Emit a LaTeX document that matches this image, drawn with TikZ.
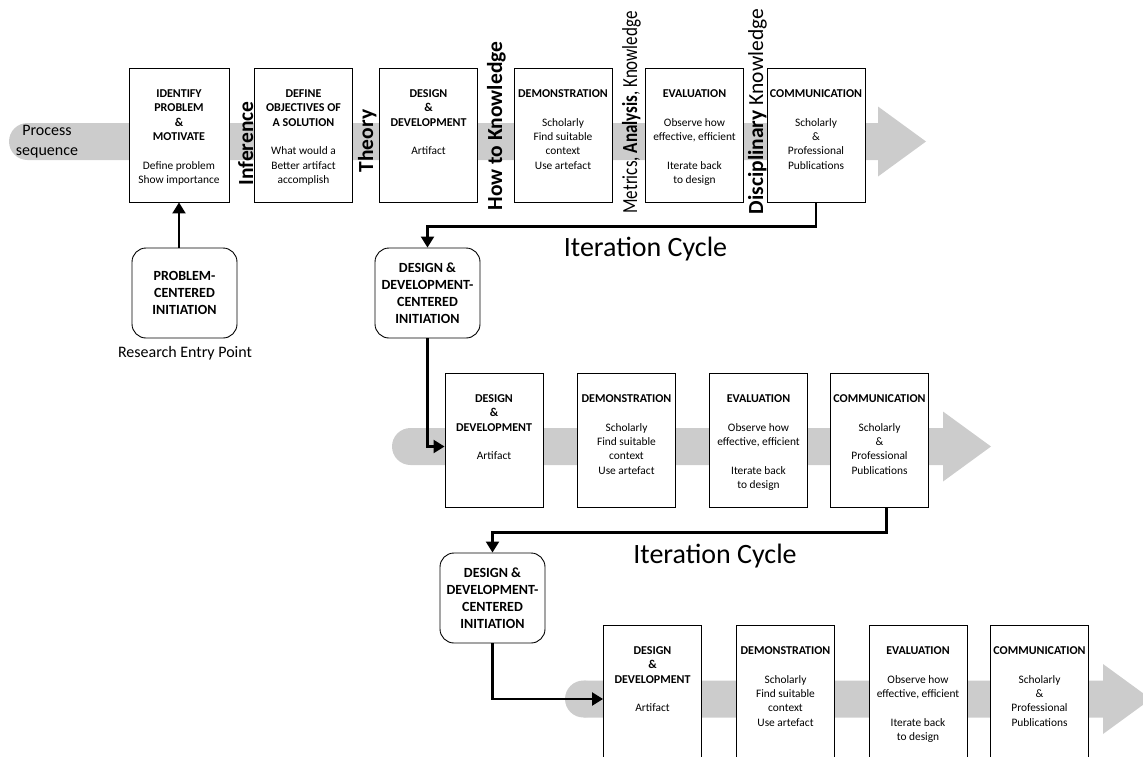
\documentclass[tikz,border=0pt]{standalone}
\usepackage{fontspec}
\usepackage{graphicx}
\setmainfont{Carlito}
\usetikzlibrary{arrows.meta}
\definecolor{bandgray}{RGB}{204,204,204}
\newcommand{\bx}[2][98]{\parbox[t][134pt][t]{#1pt}{\centering\vspace*{21.5pt}#2\par}}
\newcommand{\ttl}[1]{{\bfseries\fontsize{12}{14.4}\selectfont #1}}
\newcommand{\drawband}[4]{%
  \fill[bandgray] (#1+18.5,#4) circle (18.5pt);
  \fill[bandgray] (#1+18.5,#4-18.5) -- (#2,#4-18.5) -- (#2,#4-35) -- (#3,#4)
     -- (#2,#4+35) -- (#2,#4+18.5) -- (#1+18.5,#4+18.5) -- cycle;}
\begin{document}
\begin{tikzpicture}[x=1pt,y=-1pt,
  box/.style={draw=black, line width=0.9pt, fill=white, inner sep=0pt,
    font=\fontsize{11.4}{14.4}\selectfont},
  initbox/.style={draw=black, line width=0.9pt, fill=white, rounded corners=14pt,
    minimum width=105pt, minimum height=90pt, align=center, inner sep=0pt,
    font=\bfseries\fontsize{14}{17}\selectfont},
  vlabel/.style={rotate=90, anchor=base, inner sep=0pt, font=\fontsize{21.5}{25}\selectfont},
  conn/.style={line width=2.2pt, -{Triangle[length=11pt,width=13pt]}},
  plaintext/.style={font=\fontsize{16}{19.8}\selectfont, align=center, inner sep=0pt},
  itercycle/.style={font=\fontsize{28}{32}\selectfont, inner sep=0pt, anchor=base}]
\useasboundingbox (0,0) rectangle (1143,756);

% process bands
\drawband{9}{878}{926}{141.5}
\drawband{392}{943}{991}{446.5}
\drawband{565}{1103}{1151}{699}

\node[plaintext] (proc) at (47,142) {Process\\sequence};

% row 1
\node[box] (b1) at (179,135) {\bx[100]{\ttl{IDENTIFY\\PROBLEM\\\&\\MOTIVATE}\\[14.4pt]Define problem\\Show importance}};
\node[box] (b2) at (303.5,135) {\bx{\ttl{DEFINE\\OBJECTIVES OF\\A SOLUTION}\\[14.4pt]What would a\\Better artifact\\accomplish}};
\node[box] (b3) at (428.5,135) {\bx{\ttl{DESIGN\\\&\\DEVELOPMENT}\\[14.4pt]Artifact}};
\node[box] (b4) at (563,135) {\bx{\ttl{DEMONSTRATION}\\[14.4pt]Scholarly\\Find suitable\\context\\Use artefact}};
\node[box] (b5) at (694.5,135) {\bx{\ttl{EVALUATION}\\[14.4pt]Observe how\\effective, efficient\\[14.4pt]Iterate back\\to design}};
\node[box] (b6) at (816,135) {\bx{\ttl{COMMUNICATION}\\[14.4pt]Scholarly\\\&\\Professional\\Publications}};

\node[vlabel] (inf) at (253,143.5) {\textbf{Inference}};
\node[vlabel] (theo) at (373,141) {\textbf{Theory}};
\node[vlabel] (howto) at (502,126) {\textbf{How to Knowledge}};
\node[vlabel] (metr) at (637,112.5) {\scalebox{0.79}[1]{Metrics, \textbf{Analysis}, Knowledge}};
\node[vlabel] (disc) at (763,111.5) {\textbf{Disciplinary} Knowledge};

\node[initbox] (pci) at (184.5,293) {PROBLEM-\\CENTERED\\INITIATION};
\node[plaintext] (rep) at (185,353) {Research Entry Point};
\node[initbox] (ddi1) at (427.5,293) {DESIGN \&\\DEVELOPMENT-\\CENTERED\\INITIATION};
\node[itercycle] (ic1) at (645.5,256) {Iteration Cycle};

% row 2
\node[box] (d2) at (494,440) {\bx{\ttl{DESIGN\\\&\\DEVELOPMENT}\\[14.4pt]Artifact}};
\node[box] (dm2) at (626.5,440) {\bx{\ttl{DEMONSTRATION}\\[14.4pt]Scholarly\\Find suitable\\context\\Use artefact}};
\node[box] (ev2) at (758.5,440) {\bx{\ttl{EVALUATION}\\[14.4pt]Observe how\\effective, efficient\\[14.4pt]Iterate back\\to design}};
\node[box] (cm2) at (879.5,440) {\bx{\ttl{COMMUNICATION}\\[14.4pt]Scholarly\\\&\\Professional\\Publications}};

\node[initbox] (ddi2) at (492.5,598) {DESIGN \&\\DEVELOPMENT-\\CENTERED\\INITIATION};
\node[itercycle] (ic2) at (715,563) {Iteration Cycle};

% row 3
\node[box] (d3) at (652.5,692) {\bx{\ttl{DESIGN\\\&\\DEVELOPMENT}\\[14.4pt]Artifact}};
\node[box] (dm3) at (785.5,692) {\bx{\ttl{DEMONSTRATION}\\[14.4pt]Scholarly\\Find suitable\\context\\Use artefact}};
\node[box] (ev3) at (918,692) {\bx{\ttl{EVALUATION}\\[14.4pt]Observe how\\effective, efficient\\[14.4pt]Iterate back\\to design}};
\node[box] (cm3) at (1039.5,692) {\bx{\ttl{COMMUNICATION}\\[14.4pt]Scholarly\\\&\\Professional\\Publications}};

% connectors
\draw[conn] (b1.south |- pci.north) -- (b1.south);
\draw[conn] (b6.south) -- ++(0,24) -| (ddi1.north);
\draw[conn] (ddi1.south) |- ([yshift=-6.5pt]d2.west);
\draw[conn] ([xshift=7pt]cm2.south) -- ++(0,25) -| (ddi2.north);
\draw[conn] (ddi2.south) |- ([yshift=-7pt]d3.west);
\end{tikzpicture}
\end{document}
